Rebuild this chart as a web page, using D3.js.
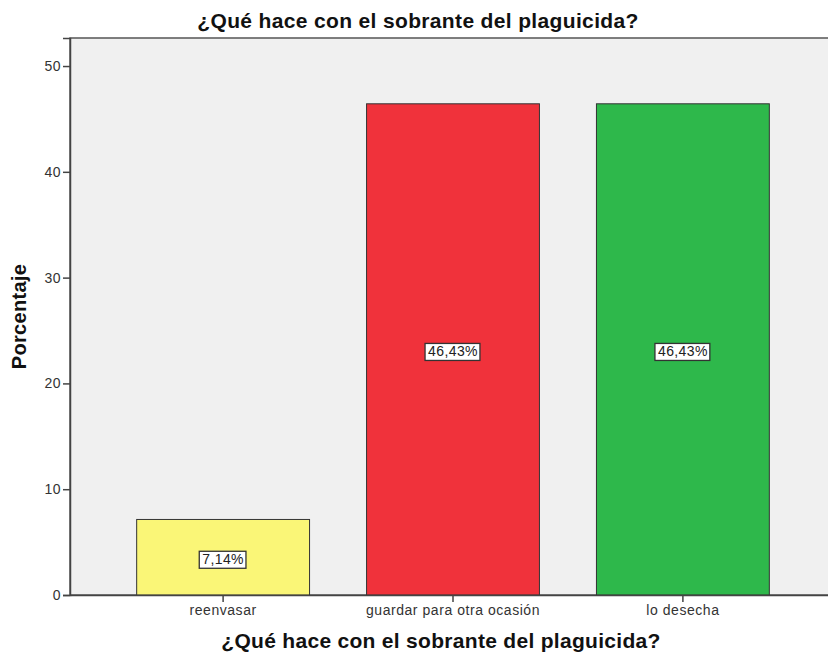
<!DOCTYPE html>
<html>
<head>
<meta charset="utf-8">
<script src="https://cdn.jsdelivr.net/npm/d3@7"></script>
<style>
  html, body { margin: 0; padding: 0; background: #ffffff; }
  svg { display: block; font-family: Arial, "Liberation Sans", sans-serif; }
</style>
</head>
<body>
<svg id="chart" width="828" height="656"></svg>
<script>
// Respuestas y porcentajes
const categories = ["reenvasar", "guardar para otra ocasión", "lo desecha"];
const percentages = [7.14, 46.43, 46.43];
const barColors = ["#faf677", "#f0323b", "#2eb84b"];
const yTicks = [0, 10, 20, 30, 40, 50];
const chartTitle = "¿Qué hace con el sobrante del plaguicida?";
const yTitle = "Porcentaje";

const svg = d3.select("#chart");
const plot = { left: 70, top: 38, right: 836, bottom: 595 };

const x = d3.scaleBand()
  .domain(categories)
  .range([plot.left, plot.right])
  .paddingInner(0.248)
  .paddingOuter(0.29);

const y = d3.scaleLinear()
  .domain([0, 52.65])
  .range([plot.bottom, plot.top]);

// Plot background
svg.append("rect")
  .attr("x", plot.left).attr("y", plot.top)
  .attr("width", plot.right - plot.left).attr("height", plot.bottom - plot.top)
  .attr("fill", "#f0f0f0")
  .attr("stroke", "#555").attr("stroke-width", 1.5);

// Bars
svg.append("g").selectAll("rect")
  .data(categories)
  .join("rect")
  .attr("x", d => x(d))
  .attr("y", (d, i) => y(percentages[i]))
  .attr("width", x.bandwidth())
  .attr("height", (d, i) => y(0) - y(percentages[i]))
  .attr("fill", (d, i) => barColors[i])
  .attr("stroke", "#333")
  .attr("stroke-width", 1);

// Y axis
const yAxis = svg.append("g")
  .attr("transform", `translate(${plot.left},0)`)
  .call(d3.axisLeft(y).tickValues(yTicks).tickSize(7).tickPadding(2));
yAxis.select(".domain").attr("stroke", "#444").attr("stroke-width", 1.5);
yAxis.selectAll(".tick line").attr("stroke", "#444").attr("stroke-width", 1.5);
yAxis.selectAll(".tick text").attr("fill", "#333")
  .style("font-family", "Arial, 'Liberation Sans', sans-serif")
  .style("font-size", "14px").style("letter-spacing", "0.5px");

// X axis
const xAxis = svg.append("g")
  .attr("transform", `translate(0,${plot.bottom})`)
  .call(d3.axisBottom(x).tickSize(7).tickPadding(3).tickSizeOuter(0));
xAxis.select(".domain").attr("stroke", "#444").attr("stroke-width", 1.5);
xAxis.selectAll(".tick line").attr("stroke", "#444").attr("stroke-width", 1.5);
xAxis.selectAll(".tick text").attr("fill", "#333")
  .style("font-family", "Arial, 'Liberation Sans', sans-serif")
  .style("font-size", "14px").style("letter-spacing", "0.55px");

// Value labels in boxes
const fmt = v => v.toFixed(2).replace(".", ",") + "%";
const labels = svg.append("g").selectAll("g")
  .data(categories)
  .join("g")
  .attr("transform", (d, i) => `translate(${x(d) + x.bandwidth() / 2},${y(percentages[i] / 2) + 2})`);

labels.append("text")
  .attr("text-anchor", "middle")
  .attr("dy", "0.36em")
  .attr("fill", "#222")
  .style("font-size", "14px")
  .style("letter-spacing", "0.4px")
  .text((d, i) => fmt(percentages[i]))
  .each(function () {
    const b = this.getBBox();
    d3.select(this.parentNode).insert("rect", "text")
      .attr("x", b.x - 3).attr("y", b.y)
      .attr("width", b.width + 5).attr("height", b.height + 1)
      .attr("fill", "#fff").attr("stroke", "#333").attr("stroke-width", 1.3);
  });

// Titles
svg.append("text")
  .attr("x", 418).attr("y", 28)
  .attr("text-anchor", "middle")
  .attr("font-weight", "bold").style("font-size", "21px")
  .style("letter-spacing", "0.35px").attr("fill", "#111")
  .text(chartTitle);

svg.append("text")
  .attr("x", 441).attr("y", 648)
  .attr("text-anchor", "middle")
  .attr("font-weight", "bold").style("font-size", "21px")
  .style("letter-spacing", "0.3px").attr("fill", "#111")
  .text(chartTitle);

svg.append("text")
  .attr("transform", `translate(26,${(plot.top + plot.bottom) / 2}) rotate(-90)`)
  .attr("text-anchor", "middle")
  .attr("font-weight", "bold").style("font-size", "20px")
  .style("letter-spacing", "0.3px").attr("fill", "#111")
  .text(yTitle);
</script>
</body>
</html>
